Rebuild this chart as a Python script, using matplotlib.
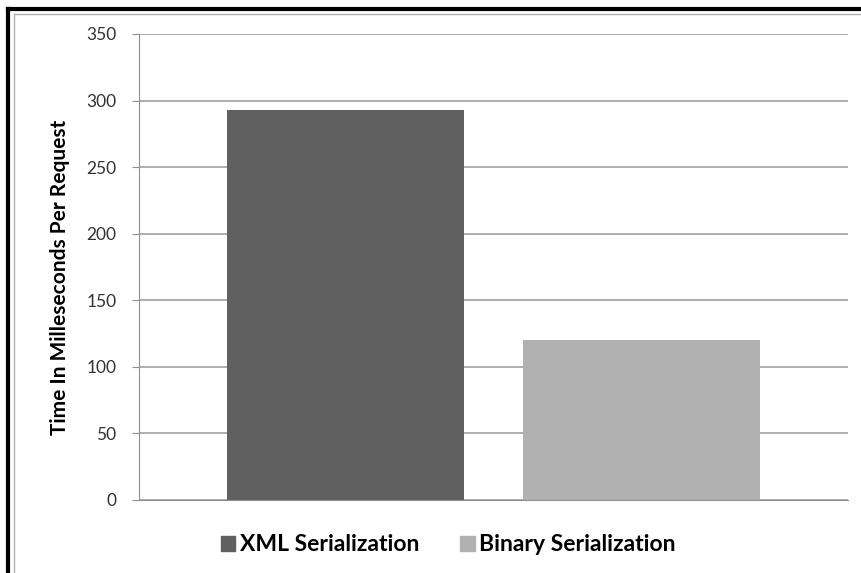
import matplotlib.pyplot as plt
from matplotlib.lines import Line2D
from matplotlib.patches import Patch

series = ["XML Serialization", "Binary Serialization"]
times = [293, 120]
colors = ["#606060", "#b0b0b0"]
yticks = [0, 50, 100, 150, 200, 250, 300, 350]

plt.rcParams["font.family"] = ["Lato", "DejaVu Sans"]

fig = plt.figure(figsize=(8.62, 5.73), dpi=100)
ax = fig.add_axes([0.161, 0.1274, 0.823, 0.8133])

ax.bar(range(len(times)), times, width=0.8, color=colors)

ax.set_xlim(-0.7, 1.7)
ax.set_ylim(0, 350)
ax.set_yticks(yticks)
ax.set_xticks([])
ax.yaxis.grid(True, color="#a0a0a0", linewidth=1.2)
ax.set_axisbelow(True)

for side in ["top", "right"]:
    ax.spines[side].set_visible(False)
ax.spines["left"].set_color("#909090")
ax.spines["bottom"].set_color("#909090")
ax.tick_params(axis="y", length=5, color="#909090", labelsize=12.5,
               labelcolor="#333333", pad=11)

ax.set_ylabel("Time In Milleseconds Per Request", fontsize=15,
              fontweight="bold")
ax.yaxis.set_label_coords(-0.097, 0.478)

handles = [Patch(color=c) for c in colors]
fig.legend(handles, series, loc="center", bbox_to_anchor=(0.52, 0.049),
           ncol=2, frameon=False, handlelength=0.62, handleheight=0.62,
           handletextpad=0.2, columnspacing=1.8,
           prop={"weight": "bold", "size": 16.5})

# page border around the chart
fig.add_artist(Line2D([8 / 862, 1], [1 - 9 / 573] * 2, color="black",
                      linewidth=3, transform=fig.transFigure))
fig.add_artist(Line2D([8 / 862] * 2, [0, 1 - 9 / 573], color="black",
                      linewidth=3, transform=fig.transFigure))
fig.add_artist(Line2D([14 / 862, 1], [1 - 14 / 573] * 2, color="#b0b0b0",
                      linewidth=1, transform=fig.transFigure))
fig.add_artist(Line2D([14 / 862] * 2, [0, 1 - 14 / 573], color="#b0b0b0",
                      linewidth=1, transform=fig.transFigure))

fig.savefig("out.png", dpi=100)
